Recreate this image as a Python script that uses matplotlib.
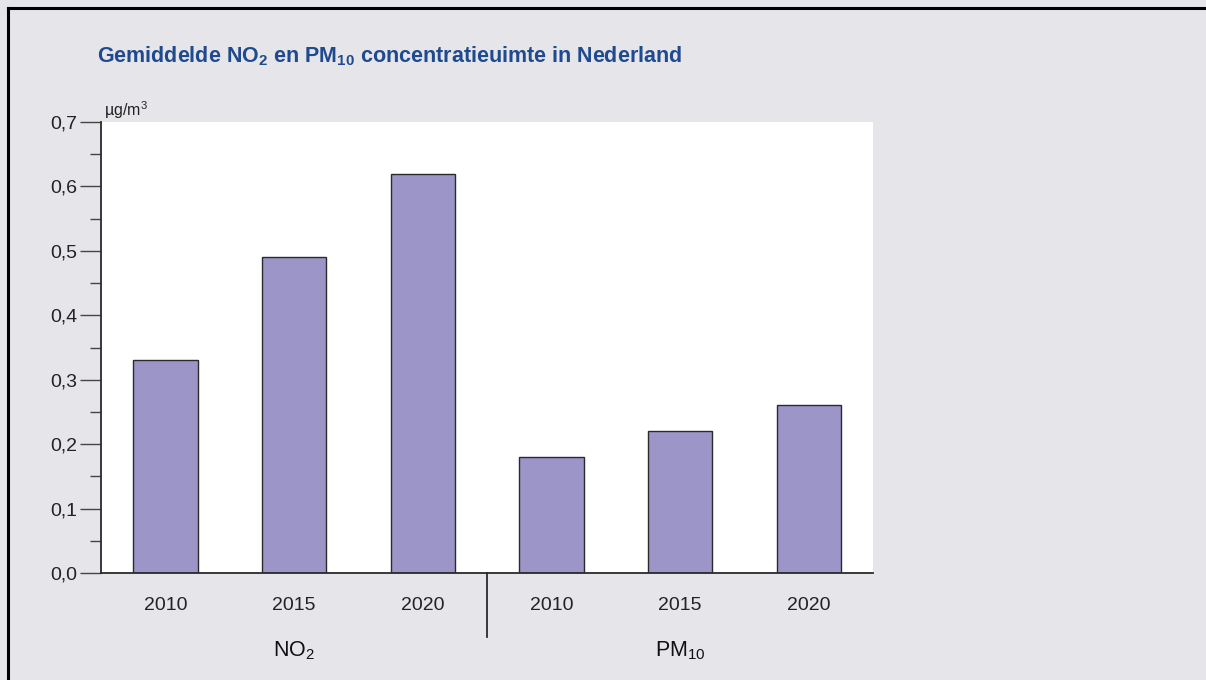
import matplotlib
matplotlib.use("Agg")
import matplotlib.pyplot as plt
from matplotlib import font_manager
from matplotlib.lines import Line2D
import numpy as np

# ---- data ----
groups = ["NO$_2$", "PM$_{10}$"]
years = ["2010", "2015", "2020"]
no2_values = [0.33, 0.49, 0.62]
pm10_values = [0.18, 0.22, 0.26]
yticks = [0.0, 0.1, 0.2, 0.3, 0.4, 0.5, 0.6, 0.7]
ytick_labels = ["0,0", "0,1", "0,2", "0,3", "0,4", "0,5", "0,6", "0,7"]
title = "Gemiddelde NO$_2$ en PM$_{10}$ concentratieuimte in Nederland"
unit = "µg/m$^3$"

names = {f.name for f in font_manager.fontManager.ttflist}
narrow = "Liberation Sans Narrow" if "Liberation Sans Narrow" in names else "Liberation Sans"
plt.rcParams["font.family"] = [narrow, "DejaVu Sans"]
plt.rcParams["mathtext.fontset"] = "custom"
plt.rcParams["mathtext.rm"] = narrow
plt.rcParams["mathtext.it"] = narrow
plt.rcParams["mathtext.bf"] = narrow + ":bold"
plt.rcParams["mathtext.default"] = "regular"

bg = "#e6e5ea"
bar_color = "#9c95c8"
title_color = "#1f4a8e"
W, H = 1206, 680
fig = plt.figure(figsize=(W / 100, H / 100), dpi=100, facecolor=bg)

left, right, top, bottom = 101, 873, 122, 573
ax = fig.add_axes([left / W, (H - bottom) / H, (right - left) / W, (bottom - top) / H])
ax.set_facecolor("white")

values = no2_values + pm10_values
x = np.arange(len(values))
ax.bar(x, values, width=0.5, color=bar_color, edgecolor="#2a2a2a", linewidth=1.0)
ax.set_xlim(-0.5, 5.5)
ax.set_ylim(0, 0.7)

for s in ["top", "right"]:
    ax.spines[s].set_visible(False)
for s in ["left", "bottom"]:
    ax.spines[s].set_color("#2a2a2a")
    ax.spines[s].set_linewidth(1.3)

ax.set_yticks(yticks)
ax.set_yticklabels(ytick_labels, fontsize=14, color="#222222")
ax.set_yticks(np.arange(0.05, 0.7, 0.1), minor=True)
ax.tick_params(axis="y", which="major", length=15, width=1.0, color="#444444", pad=2, direction="out")
ax.tick_params(axis="y", which="minor", length=8, width=1.0, color="#444444", direction="out")
ax.set_xticks(x)
ax.set_xticklabels(years * 2, fontsize=14, color="#222222")
ax.tick_params(axis="x", length=0, pad=17)

# group divider and group labels
ax.add_line(Line2D([2.5, 2.5], [0, -0.1], transform=ax.transData, color="#2a2a2a",
                   linewidth=1.3, clip_on=False))
for i, g in enumerate(groups):
    ax.text(1 + 3 * i, -0.121, g, ha="center", va="center", fontsize=15.5, color="#111111",
            clip_on=False)

ax.text(0.004, 1.003, unit, transform=ax.transAxes, ha="left", va="bottom", fontsize=11.5,
        color="#222222")

fig.text(97 / W, 1 - 56 / H, title, ha="left", va="center", fontsize=15.5,
         fontweight="bold", color=title_color)

# frame lines (top and left)
fig.add_artist(Line2D([8 / W, 1], [1 - 8 / H, 1 - 8 / H], transform=fig.transFigure,
                      color="black", linewidth=2.2))
fig.add_artist(Line2D([8 / W, 8 / W], [0, 1 - 8 / H], transform=fig.transFigure,
                      color="black", linewidth=2.2))

fig.savefig("out.png", dpi=100, facecolor=bg)
